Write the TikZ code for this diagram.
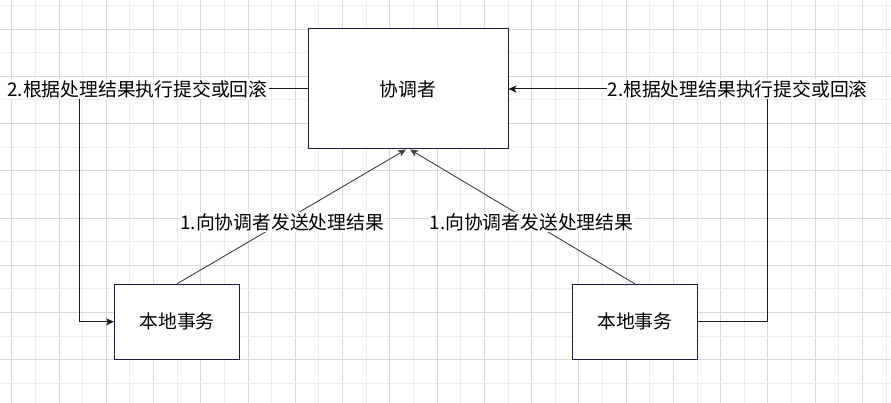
\documentclass[tikz,border=0pt]{standalone}
\usepackage{fontspec}
\setmainfont{Noto Sans CJK SC}
\usetikzlibrary{arrows.meta, positioning}

\definecolor{gridmajor}{HTML}{D9D9D9}
\definecolor{gridminor}{HTML}{EDEDED}
\definecolor{boxline}{HTML}{1C1C3C}
\definecolor{wireline}{HTML}{1A1A1A}

\tikzset{
  box/.style={draw=boxline, line width=1pt, fill=white, font=\fontsize{18.8}{20}\selectfont},
  conn/.style={draw=wireline, line width=1pt, -{Stealth[length=8pt, width=7pt, inset=2pt]}},
  diag/.style={draw=black!75, line width=0.9pt, -{Stealth[length=8pt, width=7pt, inset=2pt]}},
  lbl/.style={fill=white, inner xsep=1pt, inner ysep=1.5pt, font=\fontsize{18.8}{20}\selectfont, text=black}
}

\begin{document}
\begin{tikzpicture}[x=1pt, y=-1pt]

% Page and grid
\useasboundingbox (0,0) rectangle (891,403);
\fill[white] (0,0) rectangle (891,403);
\foreach \k in {0,...,37} {
  \pgfmathsetmacro{\gx}{11.7+23.63*\k}
  \ifodd\k
    \draw[gridminor, line width=0.8pt] (\gx,0) -- (\gx,403);
  \else
    \draw[gridmajor, line width=0.8pt] (\gx,0) -- (\gx,403);
  \fi
}
\foreach \k in {0,...,16} {
  \pgfmathsetmacro{\gy}{5.3+23.63*\k}
  \ifodd\k
    \draw[gridmajor, line width=0.8pt] (0,\gy) -- (891,\gy);
  \else
    \draw[gridminor, line width=0.8pt] (0,\gy) -- (891,\gy);
  \fi
}

% Boxes
\node[box, minimum width=200pt, minimum height=120pt] (coordinator) at (408,89) {协调者};
\node[box, minimum width=125pt, minimum height=75pt] (local_left) at (177,321.8) {本地事务};
\node[box, minimum width=125pt, minimum height=75pt] (local_right) at (634.8,321.8) {本地事务};

% Bends of the commit / rollback wires
\coordinate (bend_l) at (79.3,89);
\coordinate (bend_r) at (767.7,89);

% Step 2: coordinator -> local transactions (commit or rollback)
\draw[conn] (coordinator.west) -- node[lbl, pos=0.745] (lbl_commit_l) {2.根据处理结果执行提交或回滚} (bend_l) |- (local_left.west);
\draw[conn] (local_right.east) -| (bend_r) -- node[lbl, pos=0.116] (lbl_commit_r) {2.根据处理结果执行提交或回滚} (coordinator.east);

% Step 1: local transactions report back to coordinator
\draw[diag] (local_left.north) -- node[lbl, pos=0.46] (lbl_send_l) {1.向协调者发送处理结果} ([xshift=-2pt]coordinator.south);
\draw[diag] (local_right.north) -- node[lbl, pos=0.46] (lbl_send_r) {1.向协调者发送处理结果} ([xshift=2pt]coordinator.south);

\end{tikzpicture}
\end{document}
